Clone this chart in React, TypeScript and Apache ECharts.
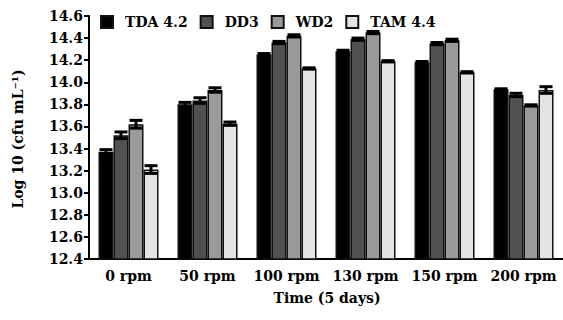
import React, { useEffect, useRef } from "react";
import * as echarts from "echarts";

const categories = ["0 rpm", "50 rpm", "100 rpm", "130 rpm", "150 rpm", "200 rpm"];
const seriesNames = ["TDA 4.2", "DD3", "WD2", "TAM 4.4"];
const tda = [13.37, 13.8, 14.25, 14.28, 14.18, 13.935];
const dd3 = [13.52, 13.835, 14.36, 14.39, 14.35, 13.885];
const wd2 = [13.62, 13.93, 14.42, 14.45, 14.38, 13.79];
const tam = [13.21, 13.625, 14.125, 14.19, 14.09, 13.93];
const tdaErr = [0.02, 0.018, 0.01, 0.01, 0.008, 0.006];
const dd3Err = [0.03, 0.025, 0.01, 0.01, 0.01, 0.015];
const wd2Err = [0.035, 0.02, 0.01, 0.01, 0.01, 0.006];
const tamErr = [0.035, 0.015, 0.006, 0.006, 0.006, 0.03];
const yTicks = { min: 12.4, max: 14.6, interval: 0.2 };

const colors = ["#000000", "#515151", "#9a9a9a", "#e4e4e4"];
const FONT = "DejaVu Serif";
const FW = "bold";
const FS = 14;

export default function App() {
  const ref = useRef<HTMLDivElement>(null);
  useEffect(() => {
    if (!ref.current) return;
    const chart = echarts.init(ref.current, undefined, { renderer: "svg" });
    const values = [tda, dd3, wd2, tam];
    const errs = [tdaErr, dd3Err, wd2Err, tamErr];
    const barW = 15;
    const errData: number[][] = [];
    values.forEach((arr, si) => {
      arr.forEach((v, ci) => errData.push([ci, v, errs[si][ci], si]));
    });
    const option: any = {
      animation: false,
      textStyle: { fontFamily: FONT },
      legend: {
        data: seriesNames,
        left: 95,
        top: 10,
        itemWidth: 12,
        itemHeight: 12,
        itemGap: 12,
        icon: "rect",
        textStyle: { fontFamily: FONT, fontWeight: FW, fontSize: FS, color: "#000", padding: [0, 0, 0, 7] },
      },
      grid: { left: 89, top: 16, width: 480, height: 243 },
      xAxis: {
        type: "category",
        data: categories,
        axisLine: { lineStyle: { color: "#000", width: 2 } },
        axisTick: { length: 7, lineStyle: { color: "#000", width: 2 }, interval: 0 },
        axisLabel: { fontFamily: FONT, fontWeight: FW, fontSize: FS, color: "#000", margin: 10, interval: 0 },
      },
      yAxis: {
        type: "value",
        min: yTicks.min,
        max: yTicks.max,
        interval: yTicks.interval,
        splitLine: { show: false },
        axisLine: { show: true, lineStyle: { color: "#000", width: 2 } },
        axisTick: { show: true, length: 5, lineStyle: { color: "#000", width: 2 } },
        axisLabel: {
          fontFamily: FONT,
          fontWeight: FW,
          fontSize: FS,
          color: "#000",
          margin: 6,
          formatter: (v: number) => v.toFixed(1),
        },
      },
      graphic: [
        {
          type: "text",
          x: 18,
          y: 139,
          rotation: Math.PI / 2,
          style: {
            text: "Log 10 (cfu mL\u207B\u00B9)",
            fontFamily: FONT,
            fontWeight: FW,
            fontSize: FS,
            fill: "#000",
            align: "center",
            verticalAlign: "middle",
          },
        },
        {
          type: "text",
          x: 327,
          y: 298,
          style: {
            text: "Time (5 days)",
            fontFamily: FONT,
            fontWeight: FW,
            fontSize: FS,
            fill: "#000",
            align: "center",
            verticalAlign: "middle",
          },
        },
      ],
      series: [
        ...seriesNames.map((name, i) => ({
          name,
          type: "bar",
          data: values[i],
          barWidth: barW,
          barGap: "0%",
          itemStyle: { color: colors[i], borderColor: "#111", borderWidth: 1.5 },
        })),
        {
          type: "custom",
          name: "err",
          data: errData,
          encode: { x: 0, y: 1 },
          z: 10,
          renderItem: (params: any, api: any) => {
            const ci = api.value(0);
            const v = api.value(1);
            const e = api.value(2);
            const si = api.value(3);
            const off = (si - 1.5) * barW;
            const top = api.coord([ci, v + e]);
            const bot = api.coord([ci, v - e]);
            const x = top[0] + off;
            const hw = 6.5;
            const st = { stroke: "#000", lineWidth: 3 };
            return {
              type: "group",
              children: [
                { type: "line", shape: { x1: x, y1: top[1], x2: x, y2: bot[1] }, style: st },
                { type: "line", shape: { x1: x - hw, y1: top[1], x2: x + hw, y2: top[1] }, style: st },
                { type: "line", shape: { x1: x - hw, y1: bot[1], x2: x + hw, y2: bot[1] }, style: st },
              ],
            };
          },
        },
      ],
    };
    chart.setOption(option);
    return () => chart.dispose();
  }, []);
  return (
    <div style={{ position: "fixed", left: 0, top: 0, width: 563, height: 320, overflow: "hidden", background: "#fff" }}>
      <div ref={ref} style={{ width: 563, height: 320 }} />
    </div>
  );
}
